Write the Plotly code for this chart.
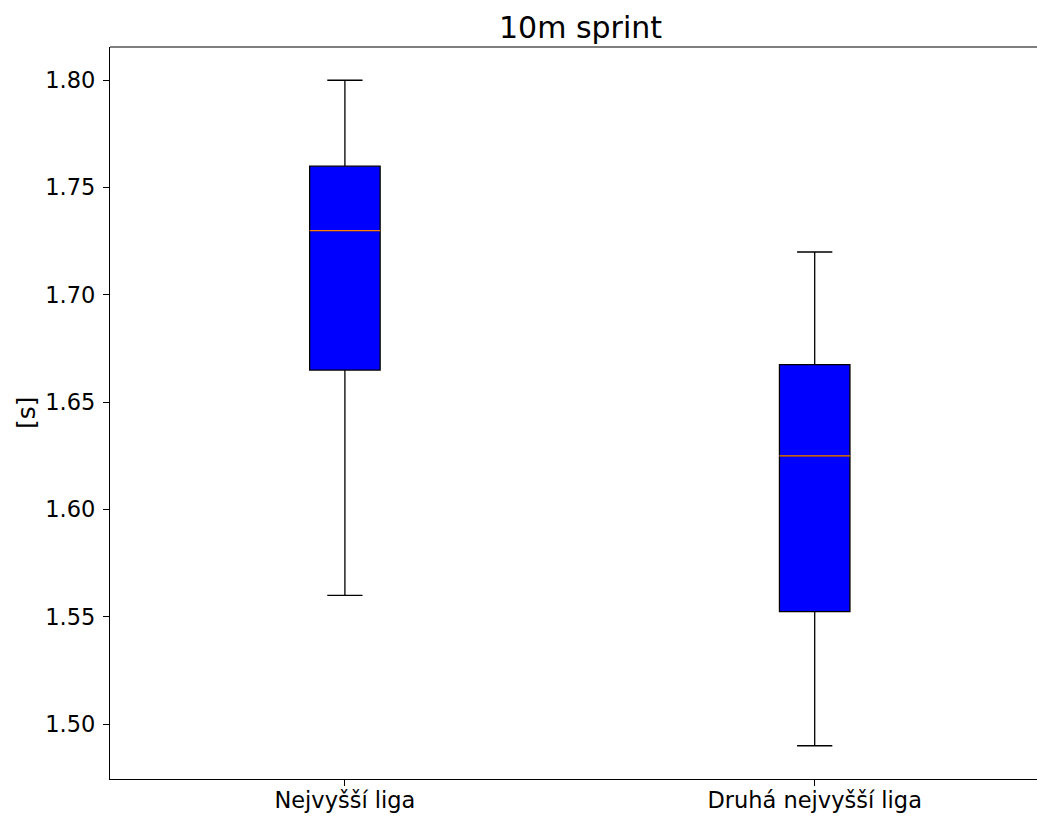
import plotly.graph_objects as go

categories = ["Nejvyšší liga", "Druhá nejvyšší liga"]
positions = [1, 2]
q1 = [1.665, 1.5525]
median = [1.73, 1.625]
q3 = [1.76, 1.6675]
lower_whisker = [1.56, 1.49]
upper_whisker = [1.80, 1.72]
y_ticks = [1.50, 1.55, 1.60, 1.65, 1.70, 1.75, 1.80]

box_width = 0.15
font_family = "DejaVu Sans"

fig = go.Figure()
for i, name in enumerate(categories):
    fig.add_trace(go.Box(
        x=[positions[i]], q1=[q1[i]], median=[median[i]], q3=[q3[i]],
        lowerfence=[lower_whisker[i]], upperfence=[upper_whisker[i]],
        width=box_width, whiskerwidth=0.5,
        fillcolor="#0000ff", line=dict(color="black", width=1.3),
        boxpoints=False, name=name, showlegend=False, hoverinfo="skip",
    ))
    fig.add_trace(go.Scatter(
        x=[positions[i] - box_width / 2, positions[i] + box_width / 2],
        y=[median[i], median[i]], mode="lines",
        line=dict(color="#ff7f0e", width=1.3),
        showlegend=False, hoverinfo="skip",
    ))

W, H = 1037, 816
L, R, T, B = 110, 0, 47, 37
plot_w = W - L - R
unit_px = 469.8
x_range = [0.5, 0.5 + plot_w / unit_px]

fig.update_layout(
    width=W, height=H,
    margin=dict(l=L, r=R, t=T, b=B, autoexpand=False),
    paper_bgcolor="white", plot_bgcolor="white",
    font=dict(family=font_family, size=22.5, color="black"),
    title=dict(text="10m sprint", font=dict(size=30, color="black"),
               x=580.5 / W, xanchor="center", xref="container",
               y=1 - 27 / H, yanchor="middle", yref="container"),
    showlegend=False,
    annotations=[dict(text="[s]", textangle=-90, xref="paper", yref="paper",
                      x=(26 - L) / plot_w, y=0.5, xanchor="center", yanchor="middle",
                      showarrow=False, font=dict(size=25, color="black"))],
    shapes=[dict(type="line", xref="paper", yref="paper", x0=0, x1=1.01, y0=1, y1=1,
                 line=dict(color="black", width=1.2), layer="above")],
)
fig.update_xaxes(
    range=x_range, tickmode="array", tickvals=positions, ticktext=categories,
    showline=True, linecolor="black", linewidth=1.2, mirror=False,
    ticks="outside", ticklen=6, tickcolor="black", showgrid=False, zeroline=False,
    tickfont=dict(size=22.5), automargin=False, ticklabelstandoff=-5,
)
fig.update_yaxes(
    range=[1.4745, 1.8155], tickmode="array", tickvals=y_ticks,
    ticktext=[f"{v:.2f}" for v in y_ticks],
    showline=True, linecolor="black", linewidth=1.2, mirror=False,
    ticks="outside", ticklen=6, tickcolor="black", showgrid=False, zeroline=False,
    tickfont=dict(size=22.5), automargin=False, ticklabelstandoff=3,
)
fig.write_html(
    "out.html",
    config={"displayModeBar": False},
    post_script="document.body.style.margin='0';document.body.style.overflow='hidden';",
)
